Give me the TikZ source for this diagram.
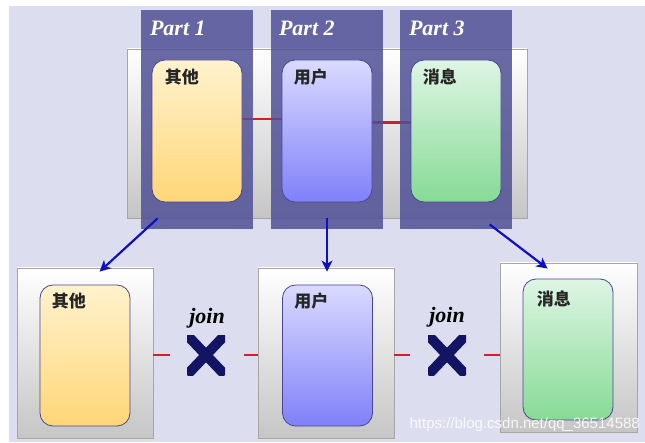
\documentclass[tikz,border=0pt]{standalone}
\usepackage{fontspec}
\setmainfont{Liberation Serif}
\newfontfamily\cjk{Noto Sans CJK SC}
\newfontfamily\wmfont{Liberation Sans}
\usetikzlibrary{arrows.meta,calc}
\definecolor{bglav}{RGB}{221,221,240}
\definecolor{stripc}{RGB}{80,80,150}
\definecolor{yelT}{RGB}{255,242,205}
\definecolor{yelB}{RGB}{255,214,120}
\definecolor{bluT}{RGB}{218,218,255}
\definecolor{bluB}{RGB}{128,128,250}
\definecolor{grnT}{RGB}{222,245,228}
\definecolor{grnB}{RGB}{135,218,150}
\definecolor{boxedge}{RGB}{70,70,150}
\definecolor{arrowblue}{RGB}{15,15,200}
\definecolor{xnavy}{RGB}{20,20,100}
\definecolor{redc}{RGB}{215,30,40}
\tikzset{
  panel/.style={draw=gray!70, line width=0.8pt, top color=white, bottom color=gray!45, minimum width=#1, minimum height=170, inner sep=0},
  strip/.style={fill=stripc, fill opacity=0.85, minimum width=112, minimum height=219, inner sep=0},
  inbox/.style={draw=boxedge, line width=0.8pt, rounded corners=13pt, minimum width=90, minimum height=142, inner sep=0},
  yelbox/.style={inbox, top color=yelT, bottom color=yelB},
  blubox/.style={inbox, top color=bluT, bottom color=bluB},
  grnbox/.style={inbox, top color=grnT, bottom color=grnB},
  cjklabel/.style={font=\cjk\bfseries\fontsize{17}{17}\selectfont, text=black!85, anchor=north west, inner sep=0},
  partlabel/.style={font=\fontsize{22}{22}\selectfont\bfseries\itshape, text=white, anchor=west, inner sep=0},
  joinlabel/.style={font=\fontsize{22}{22}\selectfont\bfseries\itshape, inner sep=0},
  redline/.style={draw=redc, line width=2.5pt},
  bluearrow/.style={draw=arrowblue, line width=2.2pt, -{Stealth[length=11pt,width=11pt,inset=3pt]}},
  xmark/.style={minimum width=38, minimum height=40, inner sep=0,
    path picture={\draw[xnavy, line width=10pt]
      (path picture bounding box.south west) -- (path picture bounding box.north east)
      (path picture bounding box.north west) -- (path picture bounding box.south east);}},
}
\begin{document}
\begin{tikzpicture}[x=1pt,y=1pt]
\useasboundingbox (0,0) rectangle (645,442);
\fill[white] (0,0) rectangle (645,442);
\fill[bglav] (9,0) rectangle (645,436);
% top panel
\node[panel=400, minimum height=169] (top) at (327,308.5) {};
% red links (behind strips)
\node[inner sep=0, minimum width=90, minimum height=142] (tb1g) at (197,311) {};
\node[inner sep=0, minimum width=90, minimum height=142] (tb2g) at (327,311) {};
\node[inner sep=0, minimum width=90, minimum height=142] (tb3g) at (456,311) {};
\draw[redline] ($(tb1g.east)+(0,12)$) -- ($(tb2g.west)+(0,12)$);
\draw[redline] ($(tb2g.east)+(0,8.5)$) -- ($(tb3g.west)+(0,8.5)$);
% strips
\node[strip] (s1) at (197,322.5) {};
\node[strip] (s2) at (327,322.5) {};
\node[strip] (s3) at (456,322.5) {};
\node[partlabel] (p1) at ($(s1.north west)+(9,-19)$) {Part 1};
\node[partlabel] (p2) at ($(s2.north west)+(8,-19)$) {Part 2};
\node[partlabel] (p3) at ($(s3.north west)+(9,-19)$) {Part 3};
% top inner boxes
\node[yelbox] (tb1) at (197,311) {};
\node[blubox] (tb2) at (327,311) {};
\node[grnbox] (tb3) at (456,311) {};
\node[cjklabel] at ($(tb1.north west)+(13,-9)$) {其他};
\node[cjklabel] at ($(tb2.north west)+(12,-9)$) {用户};
\node[cjklabel] at ($(tb3.north west)+(12,-9)$) {消息};
% bottom panels
\node[panel=136] (pa) at (85,89) {};
\node[panel=136] (pb) at (326,89) {};
\node[panel=137, minimum height=169] (pc) at (568.5,94.5) {};
\node[yelbox, minimum height=141] (ba) at (85,86.5) {};
\node[blubox, minimum height=141] (bb) at (327.5,86.5) {};
\node[grnbox, minimum height=141] (bc) at (568,92.5) {};
\node[cjklabel] at ($(ba.north west)+(12,-8)$) {其他};
\node[cjklabel] at ($(bb.north west)+(12,-8)$) {用户};
\node[cjklabel] at ($(bc.north west)+(14,-12)$) {消息};
% joins
\node[xmark] (x1) at (206,87) {};
\node[xmark] (x2) at (447,87) {};
\node[joinlabel] (j1) at (207,124) {join};
\node[joinlabel] (j2) at (447,125) {join};
\draw[redline, shorten >=17pt] (pa.east |- x1) -- (x1.west);
\draw[redline, shorten <=19pt] (x1.east) -- (pb.west |- x1);
\draw[redline, shorten >=18pt] (pb.east |- x2) -- (x2.west);
\draw[redline, shorten <=18pt] (x2.east) -- (pc.west |- x2);
% arrows
\draw[bluearrow] ($(top.south west)+(31,0)$) -- ($(pa.north west)+(83,-4)$);
\draw[bluearrow] (top.south) -- ($(pb.north)+(1,-4)$);
\draw[bluearrow] ($(top.south west)+(363,-6)$) -- ($(pc.north west)+(48,-6)$);
% watermark
\node[font=\wmfont\fontsize{15}{15}\selectfont, text=white, text opacity=0.85, anchor=east, inner sep=0] (wm) at (640,17) {https://blog.csdn.net/qq\_36514588};
\end{tikzpicture}
\end{document}
